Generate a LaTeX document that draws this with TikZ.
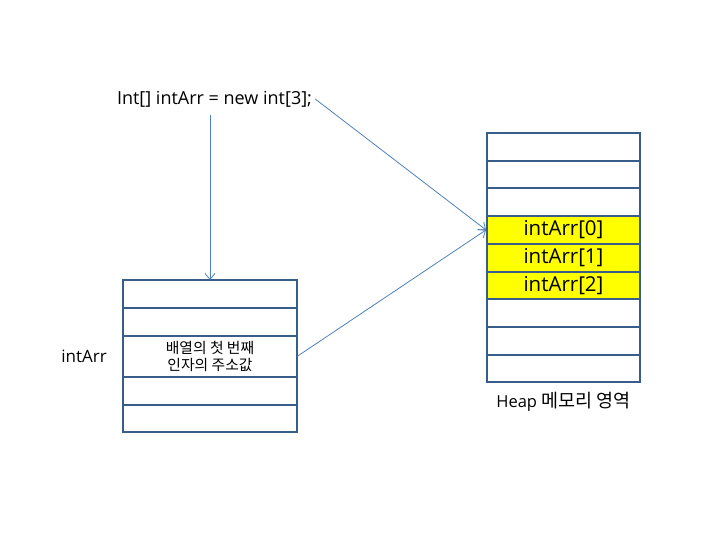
\documentclass[tikz,border=0pt]{standalone}
\usepackage{fontspec}
\setmainfont{Open Sans}
\newfontfamily\kr{Noto Sans CJK KR}
\usetikzlibrary{arrows.meta,positioning}
\definecolor{frame}{RGB}{56,93,138}
\definecolor{wire}{RGB}{79,129,189}
\definecolor{hot}{RGB}{255,255,0}
\tikzset{
  flow/.style={-{Straight Barb[length=6pt,width=10pt]},draw=wire,line width=.8pt},
  cell/.style={draw=frame,line width=2pt,outer sep=0pt,inner sep=0pt,
               minimum width=153pt,minimum height=27.7pt},
  hotcell/.style={cell,fill=hot,font=\fontsize{20.5}{22}\selectfont},
  slot/.style={cell,minimum width=174pt,minimum height=28pt},
  plain/.style={font=\fontsize{17}{20}\selectfont,inner sep=2pt}
}

\begin{document}
\begin{tikzpicture}[x=1pt,y=-1pt]
  \useasboundingbox (0,0) rectangle (710,533);
  % the declaration
  \node[plain,font=\fontsize{18}{20}\selectfont] (code) at (214.5,99) {Int[] intArr = new int[3];};
  % stack frame on the left
  \node[slot] (l1) at (210,294) {};
  \node[slot,below=0pt of l1] (l2) {};
  \node[slot,minimum height=41pt,below=0pt of l2,align=center,
    font=\kr\fontsize{14.8}{17.5}\selectfont] (l3) {배열의 첫 번째\\인자의 주소값};
  \node[slot,below=0pt of l3] (l4) {};
  \node[slot,minimum height=27pt,below=0pt of l4] (l5) {};
  \node[plain,left=14pt of l3] (var) {intArr};
  % heap on the right
  \node[cell] (r1) at (563.5,146.85) {};
  \node[cell,below=0pt of r1] (r2) {};
  \node[cell,below=0pt of r2] (r3) {};
  \node[hotcell,below=0pt of r3] (r4) {intArr[0]};
  \node[hotcell,below=0pt of r4] (r5) {intArr[1]};
  \node[hotcell,below=0pt of r5] (r6) {intArr[2]};
  \node[cell,below=0pt of r6] (r7) {};
  \node[cell,below=0pt of r7] (r8) {};
  \node[cell,below=0pt of r8] (r9) {};
  \node[plain,font=\fontsize{16.5}{20}\selectfont,below=8pt of r9] (heap)
    {Heap {\kr\fontsize{18.5}{20}\selectfont 메모리 영역}};
  % references
  \draw[flow] ([yshift=-6pt]code.south -| l1.north) -- (l1.north);
  \draw[flow] ([xshift=1pt]code.east) -- ([xshift=-1pt]r4.west);
  \draw[flow] (l3.east) -- ([xshift=-1pt]r4.west);
\end{tikzpicture}
\end{document}
